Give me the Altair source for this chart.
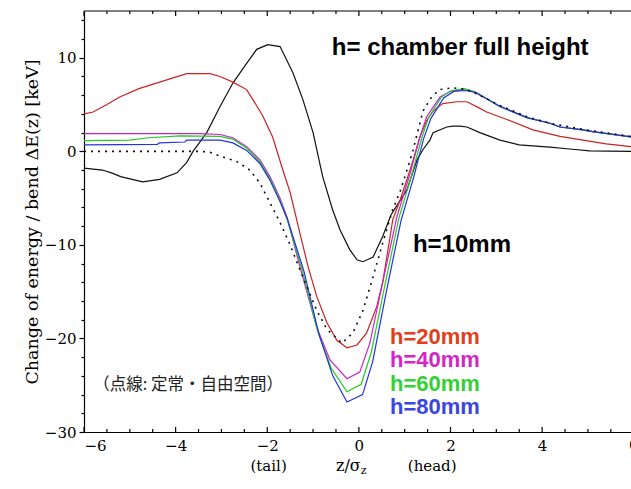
import altair as alt
import pandas as pd

# ---------------- data ----------------
# h = chamber full height (black solid)
z_full = [-6.0, -5.6, -5.4, -5.2, -4.72, -4.35, -3.97, -3.76, -3.62, -3.32, -3.03, -2.75, -2.45,
          -2.23, -1.99, -1.72, -1.44, -1.22, -1.0, -0.79, -0.57, -0.41, -0.2, -0.04, 0.09, 0.31,
          0.52, 0.7, 1.05, 1.27, 1.4, 1.55, 1.62, 1.92, 2.05, 2.2, 2.36, 2.64, 3.08, 3.5, 4.17,
          4.6, 5.04, 5.94]
e_full = [-1.8, -2.0, -2.3, -2.7, -3.26, -3.0, -2.3, -1.2, 0.0, 2.0, 4.8, 7.3, 9.4,
          10.9, 11.4, 11.2, 8.4, 5.5, 2.0, -2.7, -6.3, -8.4, -10.5, -11.6, -11.8, -11.3,
          -9.1, -6.8, -4.1, -0.9, 0.2, 1.2, 2.0, 2.6, 2.7, 2.7, 2.6, 2.0, 1.2, 0.7, 0.45,
          0.25, 0.05, 0.0]

# h = 20 mm (red)
z_h20 = [-6.0, -5.8, -5.5, -5.22, -4.8, -4.35, -3.76, -3.25, -3.03, -2.75, -2.45, -2.31, -2.1,
         -1.88, -1.66, -1.5, -1.29, -1.11, -0.92, -0.7, -0.48, -0.26, -0.04, 0.17, 0.39, 0.52,
         0.62, 0.74, 0.9, 1.05, 1.18, 1.33, 1.48, 1.62, 1.83, 2.14, 2.36, 2.6, 2.79, 3.23, 3.8,
         4.39, 4.89, 5.4, 5.94]
e_h20 = [4.0, 4.2, 5.0, 5.8, 6.7, 7.4, 8.3, 8.3, 8.0, 7.4, 6.6, 5.5, 3.8,
         1.5, -2.0, -4.4, -8.7, -12.3, -15.5, -18.3, -20.2, -21.0, -20.7, -19.4, -16.6, -14.0,
         -11.0, -7.3, -5.2, -3.0, -1.0, 1.5, 3.3, 4.3, 5.1, 5.3, 5.3, 4.7, 4.2, 3.4, 2.3,
         1.6, 1.2, 0.8, 0.5]

# h = 40 mm (magenta)
z_h40 = [-6.0, -3.47, -3.03, -2.75, -2.45, -2.16, -1.94, -1.72, -1.57, -1.29, -0.92, -0.63,
         -0.26, 0.02, 0.24, 0.52, 0.83, 1.11, 1.33, 1.48, 1.77, 1.99, 2.27, 2.49, 2.8, 3.08,
         3.67, 4.17, 4.39, 4.89, 5.1, 5.94]
e_h40 = [1.9, 1.9, 1.8, 1.45, 0.5, -0.9, -2.7, -5.0, -7.0, -12.3, -18.8, -22.3,
         -24.3, -23.6, -20.5, -14.0, -7.0, -2.5, 1.5, 3.7, 5.8, 6.4, 6.6, 6.4, 5.6, 4.8,
         3.6, 3.0, 2.6, 2.3, 2.1, 1.55]

# h = 60 mm (green)
z_h60 = [-6.0, -5.0, -4.6, -3.9, -3.03, -2.75, -2.45, -2.16, -1.94, -1.72, -1.57, -1.25, -0.9,
         -0.6, -0.26, 0.05, 0.27, 0.56, 0.87, 1.15, 1.37, 1.52, 1.8, 2.02, 2.3, 2.52, 2.8, 3.08,
         3.67, 4.17, 4.39, 4.89, 5.1, 5.94]
e_h60 = [1.15, 1.2, 1.45, 1.66, 1.6, 1.3, 0.35, -1.1, -2.9, -5.2, -7.2, -12.5, -19.2,
         -23.2, -25.7, -24.9, -21.5, -14.5, -7.2, -2.6, 1.4, 3.6, 5.8, 6.5, 6.7, 6.4, 5.6, 4.8,
         3.6, 3.0, 2.6, 2.3, 2.1, 1.55]

# h = 80 mm (blue)
z_h80 = [-6.0, -4.4, -4.35, -3.8, -3.76, -3.03, -2.75, -2.45, -2.16, -1.94, -1.72, -1.55, -1.2,
         -0.87, -0.57, -0.26, 0.08, 0.3, 0.6, 0.92, 1.2, 1.41, 1.57, 1.85, 2.07, 2.32, 2.55, 2.8,
         3.08, 3.67, 4.17, 4.39, 4.89, 5.1, 5.94]
e_h80 = [0.7, 0.75, 0.9, 1.0, 1.2, 1.2, 0.9, 0.1, -1.3, -3.1, -5.4, -7.4, -12.8,
         -19.6, -24.0, -26.8, -26.0, -22.5, -15.0, -7.4, -2.7, 1.3, 3.5, 5.7, 6.4, 6.5, 6.3, 5.6,
         4.8, 3.6, 3.0, 2.6, 2.3, 2.1, 1.55]

# steady state, free space (dotted)
z_free = [-6.0, -3.47, -3.25, -3.03, -2.66, -2.38, -2.16, -1.94, -1.72, -1.5, -1.3, -0.92, -0.7,
          -0.37, -0.13, 0.09, 0.31, 0.52, 0.74, 0.9, 1.05, 1.18, 1.4, 1.6, 1.77, 2.05, 2.36, 2.8,
          3.08, 3.67, 4.17, 4.89, 5.94]
e_free = [0.0, 0.0, -0.1, -0.5, -1.1, -2.0, -3.4, -5.5, -7.6, -10.0, -12.5, -17.0, -19.0,
          -20.5, -19.4, -17.0, -13.4, -9.8, -6.2, -4.3, -2.0, 0.1, 4.3, 5.9, 6.6, 6.8, 6.6, 5.6,
          4.9, 3.7, 3.0, 2.35, 1.6]

x_label_values = [-6, -4, -2, 0, 2, 4]
x_major_ticks = [-6, -4, -2, 0, 2, 4]
x_minor_ticks = [-5.5, -5, -4.5, -3.5, -3, -2.5, -1.5, -1, -0.5, 0.5, 1, 1.5, 2.5, 3, 3.5, 4.5, 5, 5.5]
y_tick_values = list(range(-30, 15, 2))

# annotations: (z, dE, text)
ann_black = [(-0.59, 11.0, "h= chamber full height"), (1.18, -10.0, "h=10mm")]
ann_color = [(0.68, -19.85, "h=20mm", "#e0401a"), (0.68, -22.35, "h=40mm", "#d426c6"),
             (0.68, -24.85, "h=60mm", "#35d035"), (0.68, -27.35, "h=80mm", "#3a46e0")]
ann_jp = (-5.8, -25.0, "（点線: 定常・自由空間）")

# ---------------- chart ----------------
W, H = 547, 421
XMIN, XMAX = -6, 5.94
xscale = alt.Scale(domain=[XMIN, XMAX], nice=False, zero=False)
yscale = alt.Scale(domain=[-30, 15], nice=False, zero=False)
SERIF = "DejaVu Serif"

xaxis = alt.Axis(values=x_label_values, ticks=False, grid=False, title=None,
                 labelFont=SERIF, labelFontSize=15, labelColor="black",
                 labelPadding=6, domainColor="black", domainWidth=1.2)
yaxis = alt.Axis(values=y_tick_values, grid=False,
                 labelExpr="datum.value % 10 === 0 ? datum.label : ''",
                 tickSize={"condition": {"test": "datum.value % 10 === 0", "value": 5}, "value": 3},
                 tickColor="black", tickWidth=1.2, domainColor="black", domainWidth=1.2,
                 labelFont=SERIF, labelFontSize=15, labelColor="black", labelPadding=3,
                 title="Change of energy / bend  ΔE(z) [keV]", titleFont=SERIF,
                 titleFontSize=17.5, titleFontWeight="normal", titleColor="black", titlePadding=3)


def X(field="z"):
    return alt.X(f"{field}:Q", scale=xscale, axis=xaxis)


def Y(field="dE"):
    return alt.Y(f"{field}:Q", scale=yscale, axis=yaxis)


def line(z, e, color, dash=None, width=1.2):
    kw = dict(color=color, strokeWidth=width, clip=True)
    if dash:
        kw["strokeDash"] = dash
    return alt.Chart(pd.DataFrame({"z": z, "dE": e})).mark_line(**kw).encode(x=X(), y=Y())


layers = [
    line(z_full, e_full, "#111111"),
    line(z_h20, e_h20, "#cc2222"),
    line(z_h40, e_h40, "#cc22cc"),
    line(z_h60, e_h60, "#22cc22"),
    line(z_h80, e_h80, "#2233dd"),
    line(z_free, e_free, "#111111", dash=[2, 5], width=1.6),
]

# frame line on top
top_df = pd.DataFrame({"z": [XMIN], "z2": [XMAX]})
layers.append(alt.Chart(top_df).mark_rule(color="black", strokeWidth=1.2).encode(
    x=X(), x2="z2:Q", y=alt.value(0)))

# inward x ticks on top and bottom
for vals, ln in ((x_major_ticks, 5), (x_minor_ticks, 3)):
    tdf = pd.DataFrame({"z": vals})
    layers.append(alt.Chart(tdf).mark_rule(color="black", strokeWidth=1.2).encode(
        x=X(), y=alt.value(0), y2=alt.value(ln)))
    layers.append(alt.Chart(tdf).mark_rule(color="black", strokeWidth=1.2).encode(
        x=X(), y=alt.value(H), y2=alt.value(H - ln)))

# partially visible "6" label at the right edge
layers.append(alt.Chart(pd.DataFrame({"z": [6], "t": ["6"]})).mark_text(
    font=SERIF, fontSize=15, baseline="top", color="black").encode(
    x=X(), y=alt.value(H + 6), text="t:N"))

# black annotations
bdf = pd.DataFrame({"z": [a[0] for a in ann_black], "dE": [a[1] for a in ann_black],
                    "t": [a[2] for a in ann_black]})
layers.append(alt.Chart(bdf).mark_text(font="Liberation Sans", fontSize=24, fontWeight="bold",
                                       align="left", baseline="middle", color="black").encode(
    x=X(), y=Y(), text="t:N"))

for z, e, t, c in ann_color:
    cdf = pd.DataFrame({"z": [z], "dE": [e], "t": [t]})
    layers.append(alt.Chart(cdf).mark_text(font="Liberation Sans", fontSize=22, fontWeight="bold",
                                           align="left", baseline="middle", color=c).encode(
        x=X(), y=Y(), text="t:N"))

jdf = pd.DataFrame({"z": [ann_jp[0]], "dE": [ann_jp[1]], "t": [ann_jp[2]]})
layers.append(alt.Chart(jdf).mark_text(font="Noto Sans CJK JP", fontSize=16.5, align="left",
                                       baseline="middle", color="#222222").encode(
    x=X(), y=Y(), text="t:N"))

# x-axis caption row: (tail)  z/σz  (head)
cap_df = pd.DataFrame({"z": [-1.97, 1.6], "t": ["(tail)", "(head)"]})
layers.append(alt.Chart(cap_df).mark_text(font=SERIF, fontSize=15, baseline="middle",
                                          color="black").encode(
    x=X(), y=alt.value(H + 34), text="t:N"))
layers.append(alt.Chart(pd.DataFrame({"z": [-0.5], "t": ["z/σ"]})).mark_text(
    font=SERIF, fontSize=16, align="left", baseline="middle", color="black").encode(
    x=X(), y=alt.value(H + 34), text="t:N"))
layers.append(alt.Chart(pd.DataFrame({"z": [0.04], "t": ["z"]})).mark_text(
    font=SERIF, fontSize=11, align="left", baseline="middle", color="black").encode(
    x=X(), y=alt.value(H + 39), text="t:N"))

chart = alt.layer(*layers).properties(
    width=W, height=H,
    padding={"left": 84, "top": 11, "right": 0, "bottom": 57},
    autosize=alt.AutoSizeParams(type="none"),
    background="white",
).configure_view(stroke=None)

chart.save("out.html", embed_options={"renderer": "svg", "actions": False})
